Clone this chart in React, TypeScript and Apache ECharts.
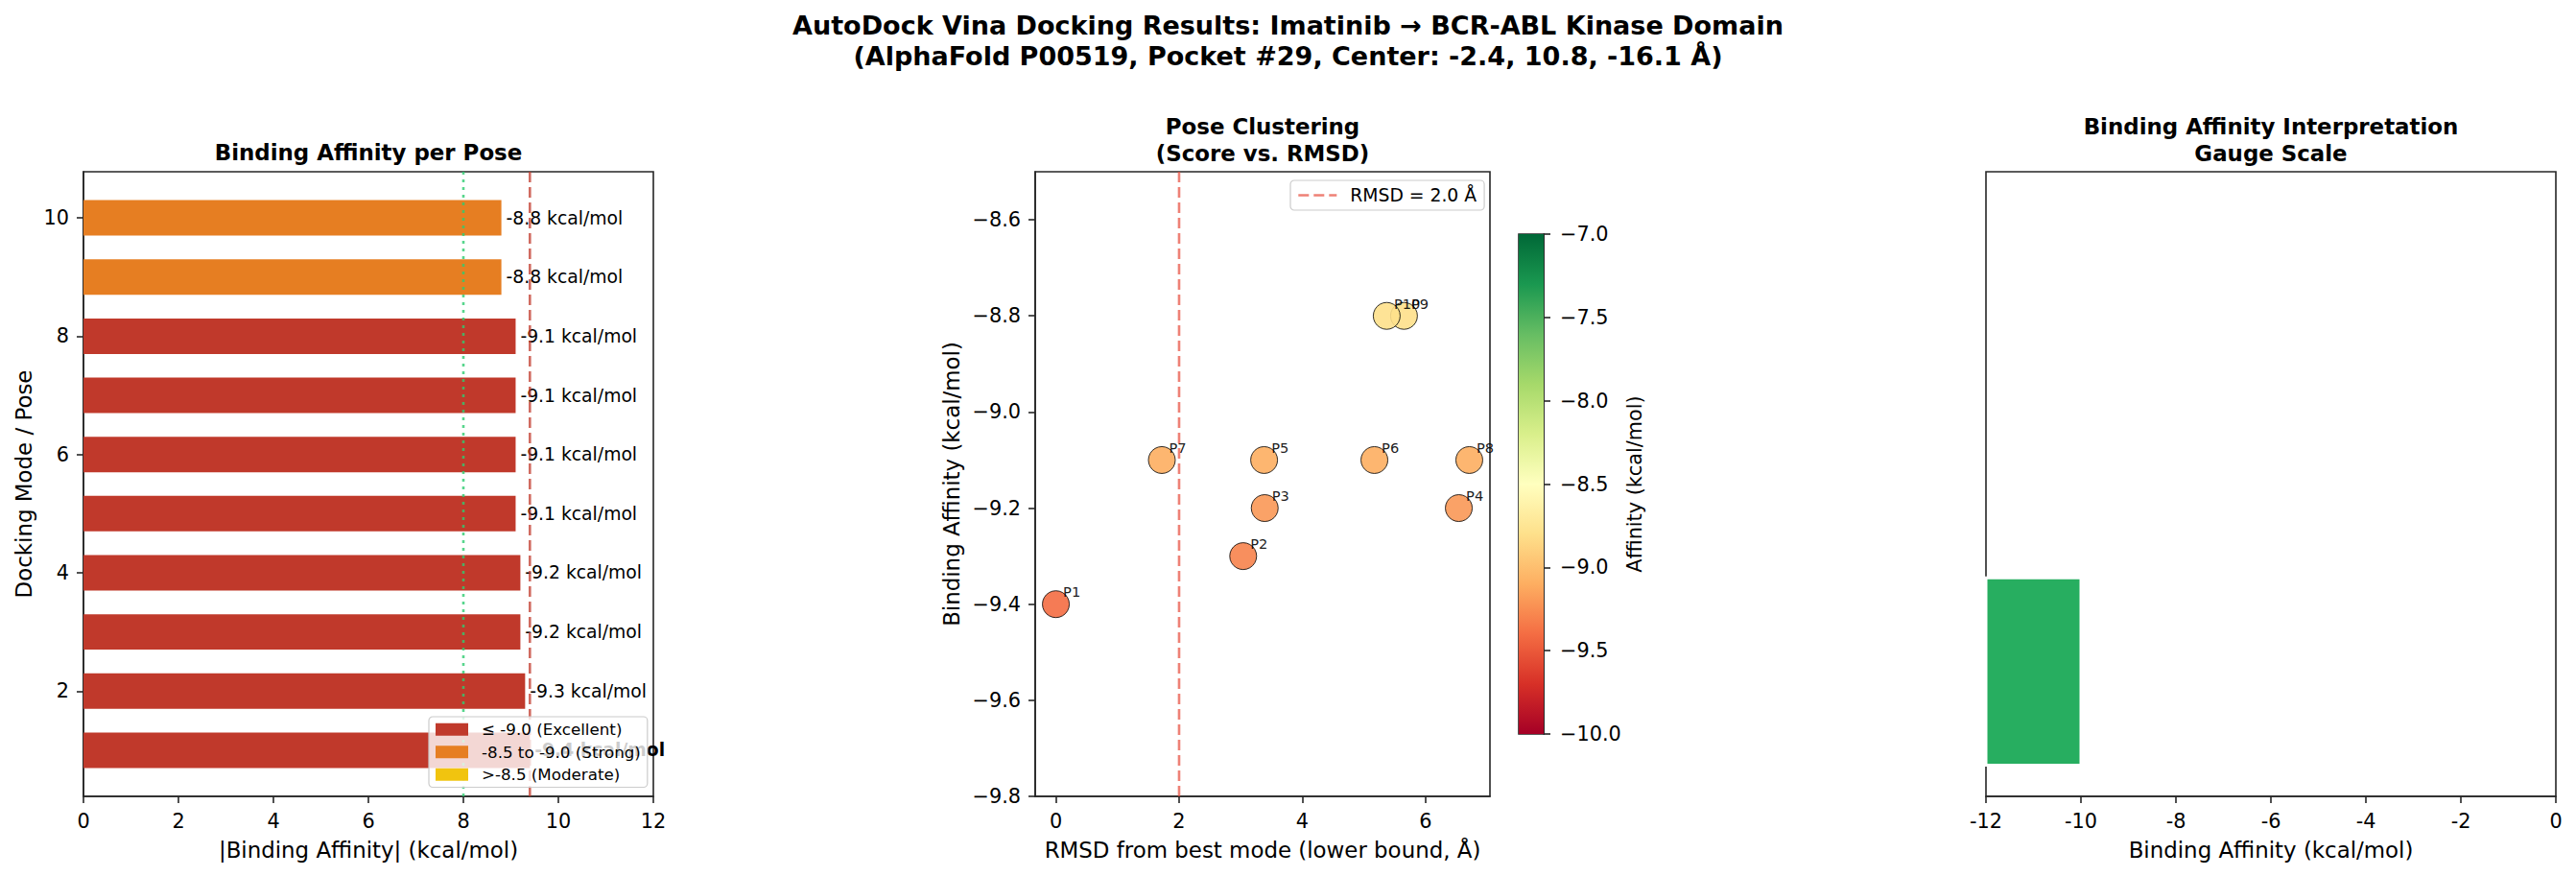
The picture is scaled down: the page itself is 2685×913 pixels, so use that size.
import React, { useEffect, useRef } from "react";
import * as echarts from "echarts";

// Docking output: one row per Vina pose
const poses = [1, 2, 3, 4, 5, 6, 7, 8, 9, 10];
const affinities = [-9.4, -9.3, -9.2, -9.2, -9.1, -9.1, -9.1, -9.1, -8.8, -8.8];
const rmsdLowerBound = [0, 3.04, 3.39, 6.54, 3.38, 5.17, 1.72, 6.71, 5.65, 5.37];

// Tick positions
const affinityTicks = [0, 2, 4, 6, 8, 10, 12];
const poseTicks = [2, 4, 6, 8, 10];
const rmsdTicks = [0, 2, 4, 6];
const scoreTicks = [-9.8, -9.6, -9.4, -9.2, -9.0, -8.8, -8.6];
const colorbarTicks = [-10, -9.5, -9, -8.5, -8, -7.5, -7];
const gaugeTicks = [-12, -10, -8, -6, -4, -2, 0];

// Affinity tiers
const tierNames = ["≤ -9.0 (Excellent)", "-8.5 to -9.0 (Strong)", ">-8.5 (Moderate)"];
const tierColors = ["#c0392b", "#e67e22", "#f1c40f"];

// Gauge zones
const gaugeZoneStart = [-12];
const gaugeZoneEnd = [-10];
const gaugeZoneColor = ["#27ae60"];

// Reference lines
const strongBinderCutoff = 8.0;
const rmsdCutoff = 2.0;
const rmsdLegendName = "RMSD = 2.0 Å";

// Score scale
const scoreMin = -9.8;
const scoreMax = -8.5;
const colorbarMin = -10;
const colorbarMax = -7;
const gaugeMin = -12;
const gaugeMax = 0;

const RDYLGN = [
  "#a50026", "#d73027", "#f46d43", "#fdae61", "#fee08b", "#ffffbf",
  "#d9ef8b", "#a6d96a", "#66bd63", "#1a9850", "#006837",
];

const FONT = "DejaVu Sans";
const INK = "#262626";
const minus = (s: string) => s.replace("-", "\u2212");

function tierOf(v: number) {
  if (v <= -9.0) return 0;
  if (v <= -8.5) return 1;
  return 2;
}

function axisBase(extra: any = {}) {
  return {
    axisLine: { show: true, onZero: false, lineStyle: { color: INK, width: 1.6 } },
    axisTick: { show: true, inside: false, length: 7, lineStyle: { color: INK, width: 1.6 } },
    axisLabel: { color: "#000", fontSize: 20.8, fontFamily: FONT, margin: 15 },
    splitLine: { show: false },
    nameLocation: "middle",
    nameTextStyle: { color: "#000", fontSize: 22.9, fontFamily: FONT },
    ...extra,
  };
}

export default function App() {
  const ref = useRef<HTMLDivElement>(null);

  useEffect(() => {
    if (!ref.current) return;
    const chart = echarts.init(ref.current, null, { renderer: "svg" });

    const barHalf = 0.3;
    const poseLo = Math.min(...poses) - barHalf;
    const poseHi = Math.max(...poses) + barHalf;
    const poseMargin = (poseHi - poseLo) * 0.05;
    const poseAxisMin = poseLo - poseMargin;
    const poseAxisMax = poseHi + poseMargin;

    const rLo = Math.min(...rmsdLowerBound);
    const rHi = Math.max(...rmsdLowerBound);
    const rMargin = (rHi - rLo) * 0.05;

    const best = Math.min(...affinities);
    const bestAbs = Math.abs(best);

    const grid = (left: number, top: number, width: number, height: number) => ({
      left, top, width, height,
      show: true,
      borderColor: INK,
      borderWidth: 1.6,
      backgroundColor: "transparent",
      containLabel: false,
    });

    const series: any[] = [];

    // Per-pose horizontal bars with value labels
    series.push({
      type: "custom",
      name: "poses",
      xAxisIndex: 0,
      yAxisIndex: 0,
      clip: false,
      z: 2,
      data: poses.map((p, i) => [p, affinities[i]]),
      renderItem: (params: any, api: any) => {
        const pose = api.value(0);
        const val = api.value(1);
        const len = Math.abs(val);
        const a = api.coord([0, pose + barHalf]);
        const b = api.coord([len, pose - barHalf]);
        const t = api.coord([len + 0.1, pose]);
        const isBest = val === best;
        return {
          type: "group",
          children: [
            {
              type: "rect",
              shape: { x: a[0], y: a[1], width: b[0] - a[0], height: b[1] - a[1] },
              style: { fill: tierColors[tierOf(val)] },
            },
            {
              type: "text",
              x: t[0],
              y: t[1],
              style: {
                text: `${val.toFixed(1)} kcal/mol`,
                fill: "#000",
                font: `${isBest ? "bold " : ""}18.75px "${FONT}"`,
                align: "left",
                verticalAlign: "middle",
                textAlign: "left",
                textVerticalAlign: "middle",
              },
            },
          ],
        };
      },
    });

    // Legend entries for the tiers
    tierNames.forEach((n, i) => {
      series.push({
        type: "custom",
        name: n,
        xAxisIndex: 0,
        yAxisIndex: 0,
        data: [],
        itemStyle: { color: tierColors[i] },
        renderItem: () => null,
      });
    });

    series.push({
      type: "line",
      xAxisIndex: 0,
      yAxisIndex: 0,
      silent: true,
      symbol: "none",
      z: 3,
      data: [[strongBinderCutoff, poseAxisMin], [strongBinderCutoff, poseAxisMax]],
      lineStyle: { color: "#2ecc71", opacity: 0.8, width: 2.6, type: [3, 5] },
    });
    series.push({
      type: "line",
      xAxisIndex: 0,
      yAxisIndex: 0,
      silent: true,
      symbol: "none",
      z: 3,
      data: [[bestAbs, poseAxisMin], [bestAbs, poseAxisMax]],
      lineStyle: { color: "#c0392b", opacity: 0.75, width: 2.6, type: [11, 5] },
    });

    // RMSD cutoff line
    series.push({
      type: "line",
      name: rmsdLegendName,
      xAxisIndex: 1,
      yAxisIndex: 1,
      silent: true,
      symbol: "none",
      z: 1,
      data: [[rmsdCutoff, scoreMin], [rmsdCutoff, scoreMax]],
      itemStyle: { color: "#e74c3c", opacity: 0.7 },
      lineStyle: { color: "#e74c3c", opacity: 0.7, width: 2.6, type: [11, 5] },
    });

    // Pose clustering scatter
    const scatterIndex = series.length;
    series.push({
      type: "scatter",
      xAxisIndex: 1,
      yAxisIndex: 1,
      z: 3,
      symbol: "circle",
      symbolSize: 28,
      data: poses.map((p, i) => [rmsdLowerBound[i], affinities[i], p]),
      itemStyle: { borderColor: "#000", borderWidth: 0.9, opacity: 0.9 },
      label: {
        show: true,
        position: [22, 9],
        align: "left",
        verticalAlign: "bottom",
        formatter: (p: any) => `P${p.value[2]}`,
        color: "#000",
        fontSize: 14.6,
        fontFamily: FONT,
      },
      emphasis: { disabled: true },
    });

    // Colorbar
    series.push({
      type: "custom",
      xAxisIndex: 2,
      yAxisIndex: 2,
      silent: true,
      data: [[0, colorbarMin]],
      renderItem: (params: any, api: any) => {
        const a = api.coord([0, colorbarMax]);
        const b = api.coord([1, colorbarMin]);
        const stops = RDYLGN.slice().reverse().map((c, i) => ({ offset: i / (RDYLGN.length - 1), color: c }));
        return {
          type: "rect",
          shape: { x: a[0], y: a[1], width: b[0] - a[0], height: b[1] - a[1] },
          style: { fill: new echarts.graphic.LinearGradient(0, 0, 0, 1, stops) },
        };
      },
    });

    // Gauge zones
    series.push({
      type: "custom",
      xAxisIndex: 3,
      yAxisIndex: 3,
      silent: true,
      data: gaugeZoneStart.map((s, i) => [s, gaugeZoneEnd[i], i]),
      renderItem: (params: any, api: any) => {
        const a = api.coord([api.value(0), 0.3]);
        const b = api.coord([api.value(1), -0.3]);
        const idx = api.value(2);
        return {
          type: "rect",
          shape: { x: a[0], y: a[1], width: b[0] - a[0], height: b[1] - a[1] },
          style: { fill: gaugeZoneColor[idx], stroke: "#fff", lineWidth: 3 },
        };
      },
    });

    const titleStyle = { fontSize: 22.9, fontWeight: "bold", fontFamily: FONT, color: "#000", lineHeight: 27.5 };

    const option: any = {
      animation: false,
      backgroundColor: "#fff",
      title: [
        {
          text: "AutoDock Vina Docking Results: Imatinib → BCR-ABL Kinase Domain\n(AlphaFold P00519, Pocket #29, Center: -2.4, 10.8, -16.1 Å)",
          left: 1342.5, top: 10, textAlign: "center", padding: 0,
          textStyle: { fontSize: 27, fontWeight: "bold", fontFamily: FONT, color: "#000", lineHeight: 32 },
        },
        { text: "Binding Affinity per Pose", left: 384, top: 145.5, textAlign: "center", padding: 0, textStyle: titleStyle },
        { text: "Pose Clustering\n(Score vs. RMSD)", left: 1316, top: 118.5, textAlign: "center", padding: 0, textStyle: titleStyle },
        { text: "Binding Affinity Interpretation\nGauge Scale", left: 2367, top: 118.5, textAlign: "center", padding: 0, textStyle: titleStyle },
      ],
      legend: [
        {
          data: tierNames,
          orient: "vertical",
          left: 447,
          top: 747,
          icon: "rect",
          itemWidth: 34,
          itemHeight: 13,
          itemGap: 5,
          padding: [4, 7, 4, 7],
          backgroundColor: "rgba(255,255,255,0.8)",
          borderColor: "#cccccc",
          borderWidth: 1.2,
          borderRadius: 4,
          selectedMode: false,
          z: 10,
          textStyle: { fontSize: 16.7, fontFamily: FONT, color: "#000", padding: [0, 0, 0, 9], lineHeight: 18.5 },
        },
        {
          data: [{ name: rmsdLegendName, itemStyle: { opacity: 0 } }],
          orient: "vertical",
          left: 1345,
          top: 188,
          itemWidth: 40,
          itemHeight: 14,
          padding: [6, 8, 6, 7],
          backgroundColor: "rgba(255,255,255,0.8)",
          borderColor: "#cccccc",
          borderWidth: 1.2,
          borderRadius: 4,
          selectedMode: false,
          z: 10,
          itemStyle: { opacity: 0 },
          lineStyle: { color: "#e74c3c", opacity: 0.7, width: 2.6, type: [11, 5] },
          textStyle: { fontSize: 18.75, fontFamily: FONT, color: "#000", padding: [0, 0, 0, 9] },
        },
      ],
      visualMap: {
        type: "continuous",
        show: false,
        min: colorbarMin,
        max: colorbarMax,
        dimension: 1,
        seriesIndex: scatterIndex,
        inRange: { color: RDYLGN },
      },
      grid: [
        grid(87, 179, 594, 651),
        grid(1079, 179, 474, 651),
        grid(1583, 244, 26, 521),
        grid(2070, 179, 594, 651),
      ],
      xAxis: [
        axisBase({
          gridIndex: 0, type: "value", min: 0, max: 12,
          name: "|Binding Affinity| (kcal/mol)", nameGap: 44,
          axisLabel: { color: "#000", fontSize: 20.8, fontFamily: FONT, margin: 15, customValues: affinityTicks },
          axisTick: { show: true, length: 7, lineStyle: { color: INK, width: 1.6 }, customValues: affinityTicks },
        }),
        axisBase({
          gridIndex: 1, type: "value", min: rLo - rMargin, max: rHi + rMargin,
          name: "RMSD from best mode (lower bound, Å)", nameGap: 44,
          axisLabel: { color: "#000", fontSize: 20.8, fontFamily: FONT, margin: 15, customValues: rmsdTicks, formatter: (v: number) => String(v) },
          axisTick: { show: true, length: 7, lineStyle: { color: INK, width: 1.6 }, customValues: rmsdTicks },
        }),
        { gridIndex: 2, type: "value", min: 0, max: 1, show: false },
        axisBase({
          gridIndex: 3, type: "value", min: gaugeMin, max: gaugeMax,
          name: "Binding Affinity (kcal/mol)", nameGap: 44,
          axisLabel: { color: "#000", fontSize: 20.8, fontFamily: FONT, margin: 15, customValues: gaugeTicks, formatter: (v: number) => String(v) },
          axisTick: { show: true, length: 7, lineStyle: { color: INK, width: 1.6 }, customValues: gaugeTicks },
        }),
      ],
      yAxis: [
        axisBase({
          gridIndex: 0, type: "value", min: poseAxisMin, max: poseAxisMax,
          name: "Docking Mode / Pose", nameGap: 51, nameRotate: 90,
          axisLabel: { color: "#000", fontSize: 20.8, fontFamily: FONT, margin: 15, customValues: poseTicks, formatter: (v: number) => String(v) },
          axisTick: { show: true, length: 7, lineStyle: { color: INK, width: 1.6 }, customValues: poseTicks },
        }),
        axisBase({
          gridIndex: 1, type: "value", min: scoreMin, max: scoreMax,
          name: "Binding Affinity (kcal/mol)", nameGap: 76, nameRotate: 90,
          axisLabel: { color: "#000", fontSize: 20.8, fontFamily: FONT, margin: 15, customValues: scoreTicks, formatter: (v: number) => minus(v.toFixed(1)) },
          axisTick: { show: true, length: 7, lineStyle: { color: INK, width: 1.6 }, customValues: scoreTicks },
        }),
        axisBase({
          gridIndex: 2, type: "value", min: colorbarMin, max: colorbarMax, position: "right",
          name: "Affinity (kcal/mol)", nameGap: 84, nameRotate: 90,
          nameTextStyle: { color: "#000", fontSize: 20.8, fontFamily: FONT },
          axisLabel: { color: "#000", fontSize: 20.8, fontFamily: FONT, margin: 17, customValues: colorbarTicks, formatter: (v: number) => minus(v.toFixed(1)) },
          axisTick: { show: true, length: 7, lineStyle: { color: INK, width: 1.6 }, customValues: colorbarTicks },
        }),
        { gridIndex: 3, type: "value", min: -0.4, max: 1.6, show: false },
      ],
      series,
    };

    chart.setOption(option);
    return () => chart.dispose();
  }, []);

  return (
    <div
      ref={ref}
      style={{ position: "absolute", left: 0, top: 0, width: 2685, height: 913, background: "#fff" }}
    />
  );
}
